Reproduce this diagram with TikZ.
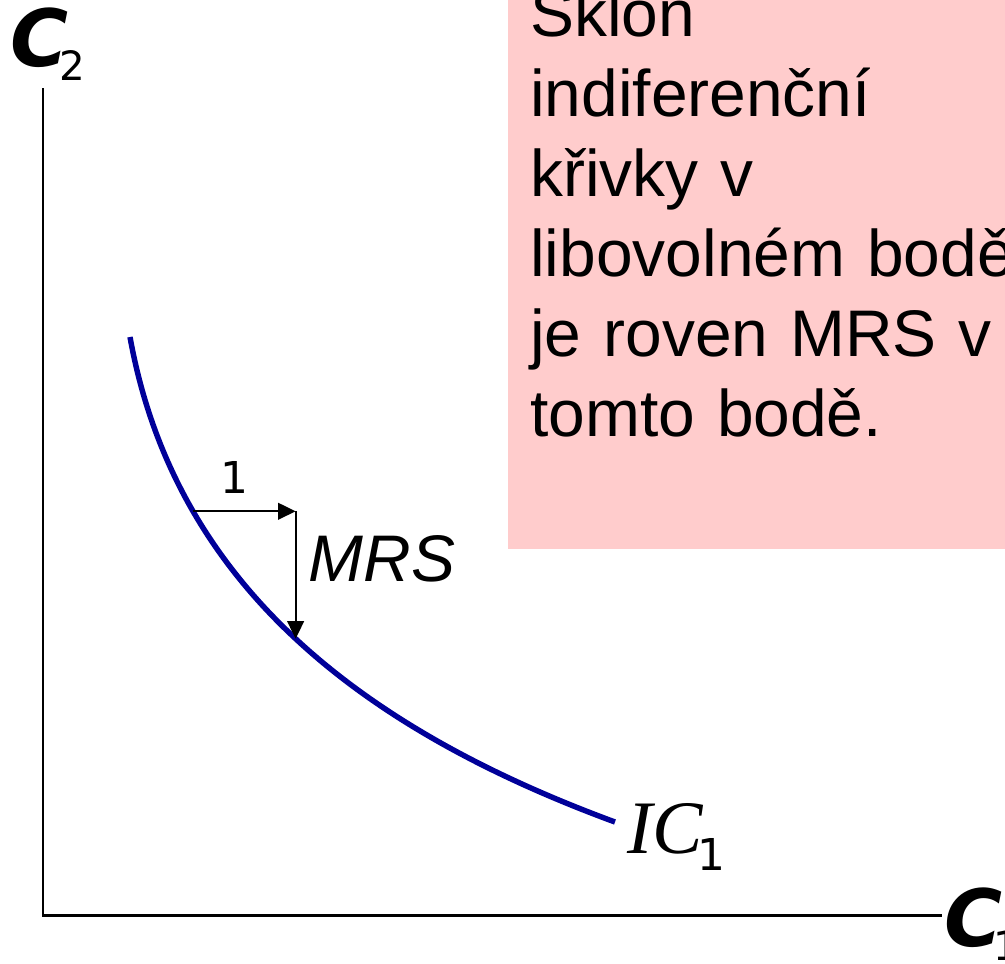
\documentclass[tikz,border=0pt]{standalone}
\usepackage{fontspec}
\setmainfont{Liberation Sans}
\newfontfamily\axisfont{DejaVu Sans}
\newfontfamily\icfont{Liberation Serif}
\usepackage{tikz}
\usetikzlibrary{arrows.meta, positioning, calc}
\definecolor{icBlue}{HTML}{000099}
\definecolor{notePink}{HTML}{FFCCCC}

\begin{document}
\begin{tikzpicture}[
    x=0.02cm, y=-0.02cm,
    axis/.style={line width=1.7pt, black},
    curve/.style={line width=3.1pt, icBlue},
    slope/.style={-{Triangle[length=10pt,width=9.5pt]}, line width=1.1pt, black},
    note/.style={fill=notePink, text width=12cm, align=left, inner xsep=12.5pt,
                 inner ysep=63.7pt, font=\fontsize{37.5pt}{45.5pt}\selectfont},
    axlabel/.style={inner sep=0pt, font=\axisfont\fontsize{45pt}{45pt}\selectfont},
    onelab/.style={inner sep=0pt, font=\axisfont\fontsize{25pt}{25pt}\selectfont},
    mrslab/.style={inner sep=0pt, font=\fontsize{37.5pt}{37.5pt}\selectfont\itshape},
    iclab/.style={inner sep=0pt, font=\icfont\fontsize{43pt}{43pt}\selectfont}
]
    \useasboundingbox (0,0) rectangle (1005,964);

    % axes
    \coordinate (origin) at (43,915);
    \coordinate (ytop)   at (43,88);
    \coordinate (xend)   at (942,915);
    \draw[axis] (ytop) -- (origin) -- (xend);
    \node[axlabel, anchor=base west] (c2lab) at (10,66)
        {{\bfseries\itshape C}\kern-5pt\raisebox{-8.5pt}{\fontsize{23pt}{23pt}\selectfont 2}};
    \node[axlabel, anchor=base west] (c1lab) at (944,946)
        {{\bfseries\itshape C}\kern-5pt\raisebox{-8.5pt}{\fontsize{23pt}{23pt}\selectfont 1}};

    % indifference curve
    \coordinate (icstart) at (130,337);
    \coordinate (icend)   at (615,822);
    \draw[curve] (icstart) .. controls (175,587) and (365,730) .. (icend)
        coordinate[pos=0.26] (p1) coordinate[pos=0.5] (p2);
    \node[iclab, anchor=base west] (ic) at ([shift={(12,31)}]icend)
        {\itshape IC\kern-3pt\raisebox{-9.7pt}{\axisfont\upshape\fontsize{25pt}{25pt}\selectfont 1}};

    % slope triangle
    \draw[slope] (p1) -- node[onelab, pos=0.4, above=9.5pt] (one) {1} (p1 -| p2);
    \draw[slope] (p1 -| p2) -- node[mrslab, pos=0.37, right=7pt] (mrs) {MRS} (p2);

    % note
    \node[note, anchor=south west] (sklon) at (508,549)
        {Sklon\\indiferenční\\křivky v\\libovolném bodě\\je roven MRS v\\tomto bodě.};
\end{tikzpicture}
\end{document}
